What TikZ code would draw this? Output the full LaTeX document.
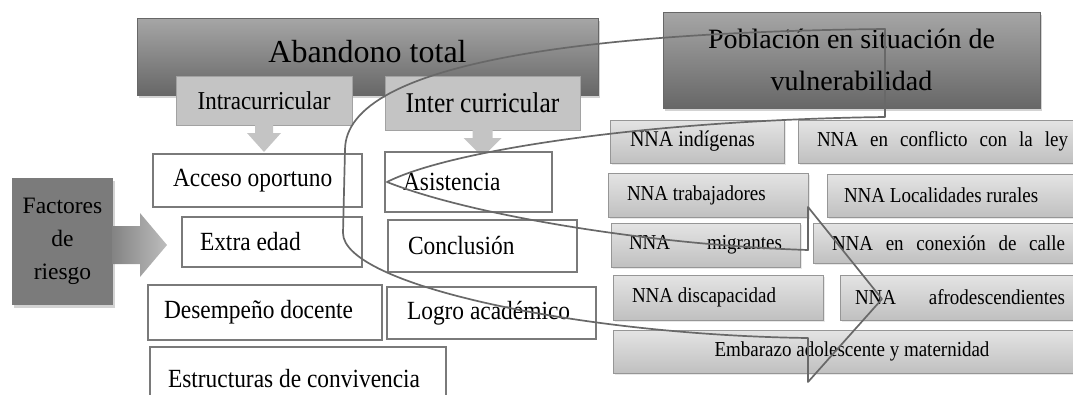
\documentclass[tikz,border=0pt]{standalone}
\usepackage{fontspec}
\usepackage{graphicx}
\setmainfont{Liberation Serif}
\usetikzlibrary{shadows,calc}
\definecolor{titletop}{HTML}{A6A6A6}
\definecolor{titlebot}{HTML}{676767}
\definecolor{subfill}{HTML}{C4C4C4}
\definecolor{subdraw}{HTML}{A2A2A2}
\definecolor{boxdraw}{HTML}{7A7A7A}
\definecolor{nnatop}{HTML}{E4E4E4}
\definecolor{nnabot}{HTML}{C0C0C0}
\definecolor{nnadraw}{HTML}{969696}
\definecolor{factfill}{HTML}{7B7B7B}
\definecolor{arrowleft}{HTML}{838383}
\definecolor{arrowright}{HTML}{BDBDBD}
\definecolor{curvecol}{HTML}{686868}
\tikzset{
  base/.style={inner ysep=0pt, outer sep=0pt, text=black},
  titlebox/.style={base, inner xsep=0pt, top color=titletop, bottom color=titlebot, draw=titlebot, line width=0.4pt,
    drop shadow={opacity=0.35, shadow xshift=2pt, shadow yshift=-3pt}},
  subbox/.style={base, inner xsep=0pt, fill=subfill, draw=subdraw, line width=0.8pt},
  whitebox/.style={base, fill=white, draw=boxdraw, line width=1.4pt, font=\fontsize{23.4}{28}\selectfont},
  nnabox/.style={base, top color=nnatop, bottom color=nnabot, draw=nnadraw, line width=0.8pt,
    drop shadow={opacity=0.18, shadow xshift=1.5pt, shadow yshift=-2pt}, font=\fontsize{19}{23}\selectfont},
  factbox/.style={base, inner xsep=0pt, fill=factfill, drop shadow={opacity=0.35, shadow xshift=2pt, shadow yshift=-3pt}},
  curveline/.style={draw=curvecol, line width=1.7pt, line join=round}
}
\newcommand\vs{1.12}
% centered box: name, style, x1, y1, x2, y2, text
\newcommand\cbox[7]{%
  \pgfmathsetmacro\pbw{#5-#3}\pgfmathsetmacro\pbh{#6-#4}%
  \node[#2, anchor=north west, minimum width=\pbw pt, minimum height=\pbh pt] (#1) at (#3,#4) {#7};}
% left aligned box: name, style, x1, y1, x2, y2, pad, text
\newcommand\lbox[8]{%
  \pgfmathsetmacro\pbw{#5-#3}\pgfmathsetmacro\pbh{#6-#4}\pgfmathsetmacro\pbt{#5-#3-2*#7}%
  \node[#2, inner xsep=#7pt, anchor=north west, minimum width=\pbw pt, minimum height=\pbh pt] (#1) at (#3,#4) {\scalebox{1}[\vs]{\hbox to \pbt pt{#8\hfil}}};}
\begin{document}
\begin{tikzpicture}[x=1pt, y=-1pt]
\path[use as bounding box] (0,0) rectangle (1073,394);
\clip (0,0) rectangle (1073,394);

% titles
\cbox{abandono}{titlebox, text depth=10pt, font=\fontsize{32}{38}\selectfont}{137}{18}{598}{95}{Abandono total}
\cbox{poblacion}{titlebox, align=center, font=\fontsize{28}{42}\selectfont}{663}{12}{1040}{108}{Población en situación de\\vulnerabilidad}

% sub headers
\cbox{intra}{subbox, font=\fontsize{23}{28}\selectfont}{176}{76}{352}{125}{\scalebox{1}[\vs]{Intracurricular}}
\cbox{inter}{subbox, font=\fontsize{25.5}{30}\selectfont}{385}{76}{580}{130}{\scalebox{1}[\vs]{Inter curricular}}
\fill[subfill] (intra.south) +(-9,-1) -- +(-9,8) -- +(-17,8) -- +(0,27) -- +(17,8) -- +(9,8) -- +(9,-1) -- cycle;
\fill[subfill] (inter.south) +(-10,-1) -- +(-10,8) -- +(-19,8) -- +(0,27) -- +(19,8) -- +(10,8) -- +(10,-1) -- cycle;

% left column
\lbox{acceso}{whitebox}{153}{154}{362}{207}{20}{Acceso oportuno}
\lbox{extra}{whitebox}{182}{217}{362}{267}{18}{Extra edad}
\lbox{desemp}{whitebox}{148}{285}{382}{340}{16}{Desempeño docente}
\lbox{estruct}{whitebox}{150}{347}{446}{410}{18}{Estructuras de convivencia}
\lbox{asist}{whitebox}{385}{152}{552}{212}{18}{Asistencia}
\lbox{concl}{whitebox}{388}{220}{577}{272}{20}{Conclusión}
\lbox{logro}{whitebox}{387}{287}{596}{339}{20}{Logro académico}

% factores de riesgo
\cbox{factores}{factbox, align=center, font=\fontsize{23.5}{33}\selectfont}{12}{178}{113}{305}{Factores\\de\\riesgo}
\coordinate (fa) at ($(factores.east)+(0,3.5)$);
\shade[left color=arrowleft, right color=arrowright] (fa) +(-1,-19) -- +(27,-19) -- +(27,-32) -- +(54,0) -- +(27,32) -- +(27,19) -- +(-1,19) -- cycle;

% right column
\lbox{indig}{nnabox, font=\fontsize{20}{24}\selectfont}{610}{120}{784}{163}{20}{NNA indígenas}
\lbox{conflicto}{nnabox}{798}{120}{1087}{163}{19}{NNA\hfill en\hfill conflicto\hfill con\hfill la\hfill ley}
\lbox{trabaj}{nnabox}{608}{173}{808}{217}{19}{NNA trabajadores}
\lbox{rurales}{nnabox}{827}{174}{1090}{217}{17}{NNA Localidades rurales}
\lbox{migr}{nnabox}{611}{223}{800}{267}{18}{NNA\hfill migrantes}
\lbox{calle}{nnabox}{813}{223}{1084}{263}{19}{NNA\hfill en\hfill conexión\hfill de\hfill calle}
\lbox{discap}{nnabox}{613}{275}{823}{320}{19}{NNA discapacidad}
\lbox{afro}{nnabox}{840}{275}{1080}{320}{15}{NNA\hfill afrodescendientes}
\cbox{embarazo}{nnabox}{613}{330}{1091}{373}{\scalebox{1}[\vs]{Embarazo adolescente y maternidad}}

% curved block arrow outline
\draw[curveline]
  (885,29) .. controls (600,32) and (345,60) .. (345,150)
  -- (343,233) .. controls (343,285) and (580,335) .. (808,338)
  -- (808,382) -- (882,299) -- (808,207) -- (808,250)
  .. controls (650,245) and (470,215) .. (387,182)
  .. controls (450,150) and (650,120) .. (885,117) -- cycle;
\end{tikzpicture}
\end{document}
